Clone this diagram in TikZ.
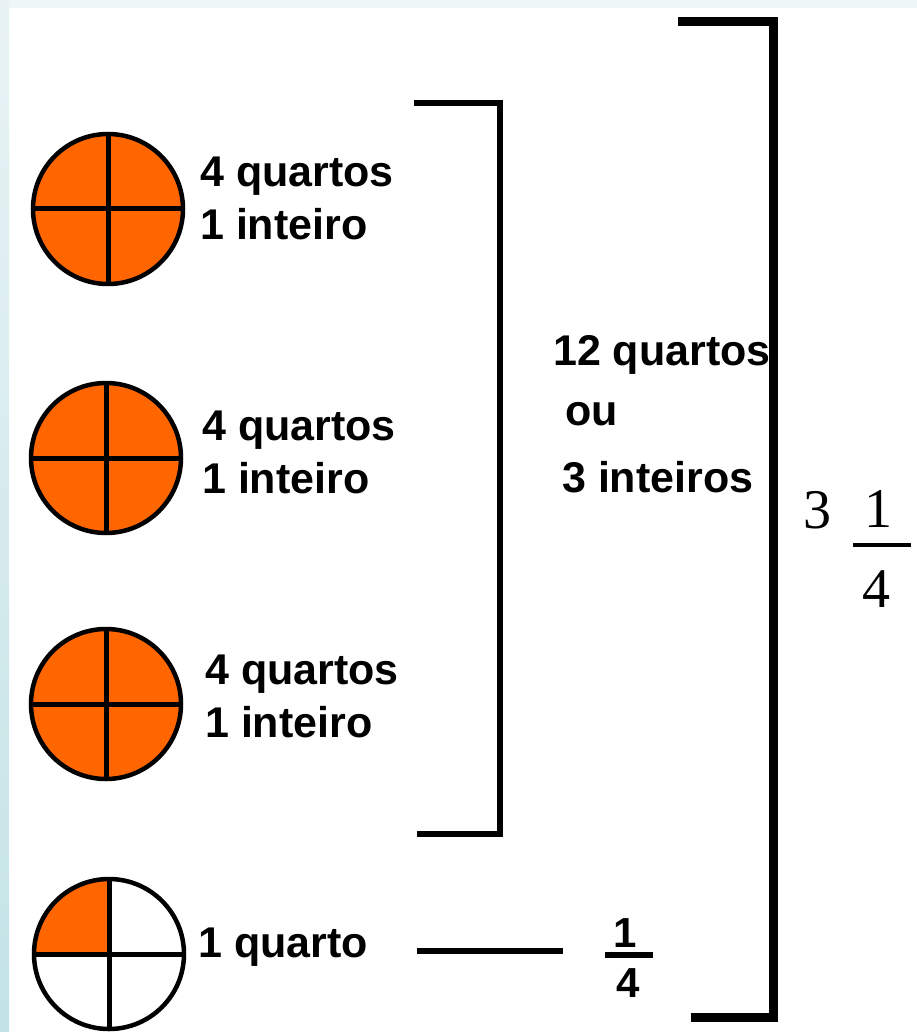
\documentclass[tikz,border=0pt]{standalone}
\usepackage{fontspec}
\setmainfont{Liberation Serif}
\setsansfont{Liberation Sans}
\definecolor{pieorange}{HTML}{FF6600}
\definecolor{stripetop}{HTML}{EEF7F7}
\definecolor{stripehi}{HTML}{E9F3F5}
\definecolor{stripelo}{HTML}{C3E3E6}
\usetikzlibrary{positioning}
\tikzset{
  pie/.style={
    circle, draw=black, line width=4.5pt, fill=#1,
    minimum size=150pt, inner sep=0pt,
    path picture={
      \draw[line width=5pt]
        (path picture bounding box.north) -- (path picture bounding box.south)
        (path picture bounding box.west) -- (path picture bounding box.east);
    }
  },
  pie/.default=pieorange,
  quarterpie/.style={
    circle, draw=black, line width=4.5pt, fill=white,
    minimum size=150pt, inner sep=0pt,
    path picture={
      \fill[pieorange] (path picture bounding box.center)
        rectangle (path picture bounding box.north west);
      \draw[line width=5pt]
        (path picture bounding box.north) -- (path picture bounding box.south)
        (path picture bounding box.west) -- (path picture bounding box.east);
    }
  },
  lbl/.style={
    font=\fontsize{43}{50}\selectfont\sffamily\bfseries,
    inner sep=0pt, anchor=base west
  },
  fr/.style={font=\fontsize{42}{50}\selectfont\sffamily\bfseries,
    inner sep=0pt, anchor=base},
  num/.style={font=\fontsize{56}{60}\selectfont, inner sep=0pt, anchor=base},
  brk/.style={line width=#1, line join=miter},
  brk/.default=6pt,
}

\begin{document}
\begin{tikzpicture}[x=1pt, y=1pt]
  \useasboundingbox (0,0) rectangle (917,-1032);
  % page edge
  \fill[stripetop] (0,0) rectangle (917,-8);
  \shade[top color=stripehi, bottom color=stripelo] (0,0) rectangle (9,-1032);

  % circles
  \node[pie] (c1) at (108,-209) {};
  \node[pie] (c2) at (106,-458) {};
  \node[pie] (c3) at (106,-704) {};
  \node[quarterpie] (c4) at (109,-954) {};

  \node[lbl] (q1) at (200,-187) {4 quartos};
  \node[lbl] (i1) at (200,-240) {1 inteiro};
  \node[lbl] (q2) at (202,-440) {4 quartos};
  \node[lbl] (i2) at (202,-493) {1 inteiro};
  \node[lbl] (q3) at (205,-684) {4 quartos};
  \node[lbl] (i3) at (205,-737) {1 inteiro};
  \node[lbl] (q4) at (198,-957) {1 quarto};

  % inner bracket
  \draw[brk] (414,-103) -- (500,-103) -- (500,-834) -- (417,-834);
  \node[lbl] (tot) at (553,-365) {12 quartos};
  \node[lbl] (ou) at (565,-425) {ou};
  \node[lbl] (int) at (562,-492) {3 inteiros};

  % one quarter
  \node[fr] (fa) at (625,-947) {1};
  \node[fr] (fb) at (628,-997) {4};
  \draw[line width=6pt] (605,-955) -- (653,-955);
  \coordinate (ls) at (417,-951);
  \coordinate (le) at (563,-951);
  \draw[line width=6pt] (ls) -- (le);

  % outer bracket
  \draw[brk=9pt] (678,-22) -- (773,-22) -- (773,-1017) -- (691,-1017);
  \node[num] (w) at (817,-528) {3};
  \node[num] (na) at (878,-527) {1};
  \node[num] (nb) at (876,-607) {4};
  \draw[line width=4pt] (853,-545) -- (911,-545);
\end{tikzpicture}
\end{document}
